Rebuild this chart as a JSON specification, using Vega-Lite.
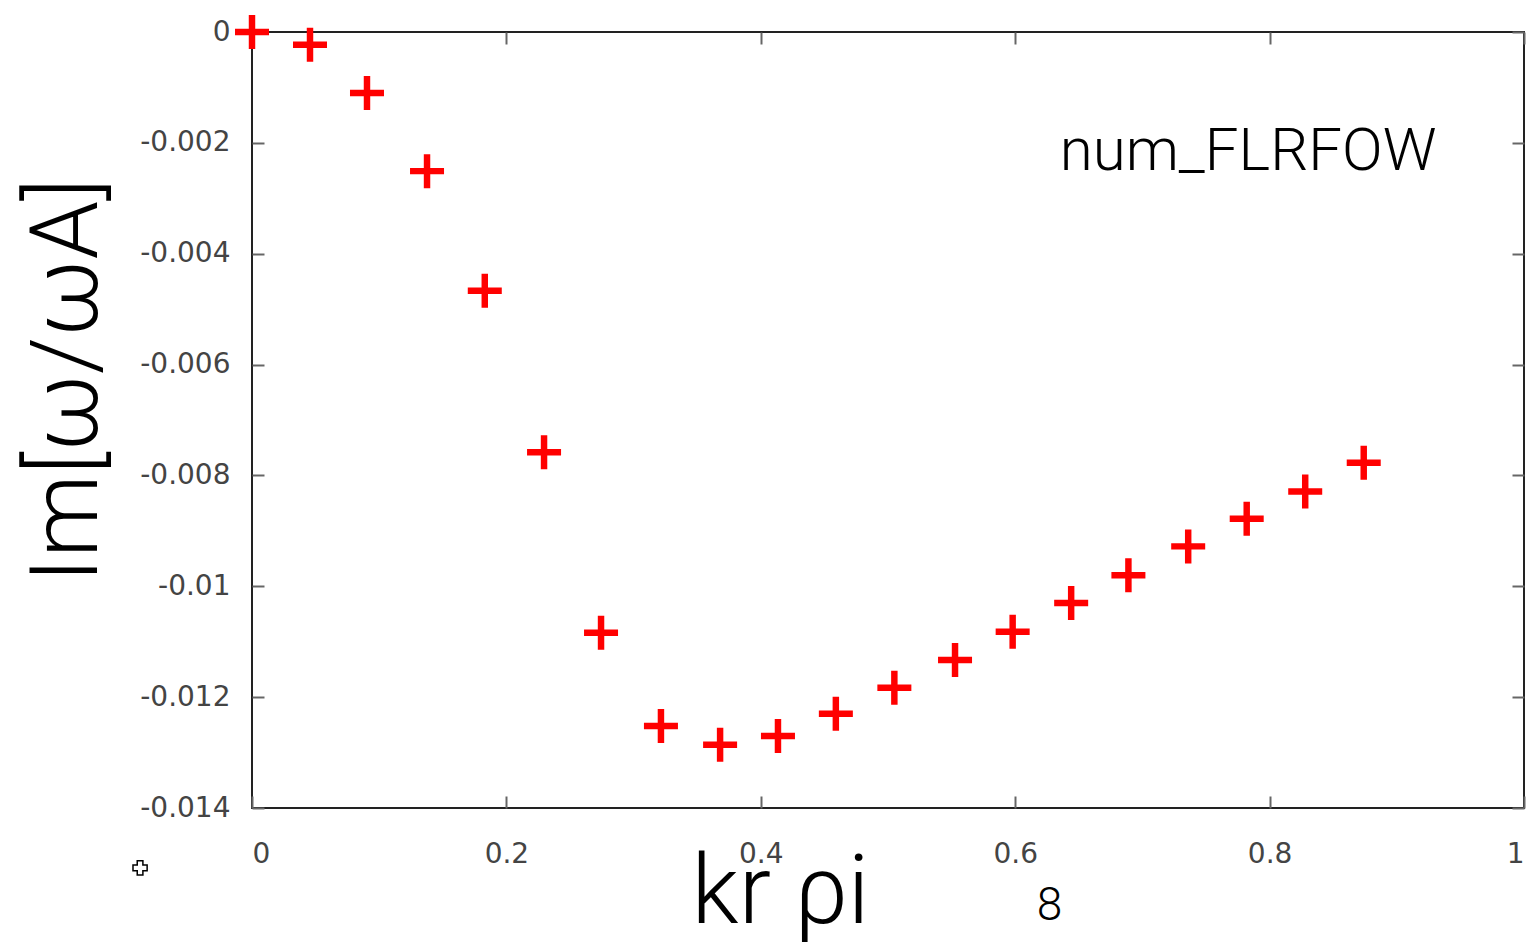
{
  "$schema": "https://vega.github.io/schema/vega-lite/v6.json",
  "width": 1272,
  "height": 776,
  "autosize": {"type": "none"},
  "padding": {"left": 252, "top": 32, "right": 7, "bottom": 134},
  "background": "white",
  "config": {
    "view": {"stroke": "#222", "strokeWidth": 2},
    "axis": {
      "grid": false,
      "domain": false,
      "tickSize": -12,
      "tickColor": "#666",
      "tickWidth": 2,
      "labelFont": "DejaVu Sans",
      "labelFontSize": 28,
      "labelColor": "#444",
      "titleFont": "Roboto",
      "titleFontWeight": 300,
      "titleColor": "#000"
    }
  },
  "datasets": {
    "pts": [
      {"kr": 0.0, "im": 0.0},
      {"kr": 0.0456, "im": -0.00023},
      {"kr": 0.0904, "im": -0.0011},
      {"kr": 0.1376, "im": -0.00251},
      {"kr": 0.183, "im": -0.00467},
      {"kr": 0.2296, "im": -0.00758},
      {"kr": 0.2744, "im": -0.01084},
      {"kr": 0.3215, "im": -0.01252},
      {"kr": 0.368, "im": -0.01286},
      {"kr": 0.4135, "im": -0.0127},
      {"kr": 0.459, "im": -0.0123},
      {"kr": 0.505, "im": -0.01183},
      {"kr": 0.5527, "im": -0.01133},
      {"kr": 0.598, "im": -0.01082},
      {"kr": 0.644, "im": -0.0103},
      {"kr": 0.689, "im": -0.0098},
      {"kr": 0.736, "im": -0.00928},
      {"kr": 0.782, "im": -0.00878},
      {"kr": 0.828, "im": -0.00829},
      {"kr": 0.874, "im": -0.00777}
    ],
    "labels": [
      {"kr": 0.635, "im": -0.00249, "txt": "num_FLRFOW", "kind": "legend"},
      {"kr": 0.617, "im": -0.01602, "txt": "8", "kind": "page"}
    ],
    "key": [
      {"kr": -0.088, "im": -0.01508}
    ]
  },
  "layer": [
    {
      "data": {"name": "pts"},
      "mark": {"type": "point", "shape": "M-1,-0.19H1V0.19H-1Z M-0.19,-1H0.19V1H-0.19Z", "filled": true, "color": "#ff0000", "size": 1156, "opacity": 1, "clip": false},
      "encoding": {
        "x": {
          "field": "kr", "type": "quantitative",
          "scale": {"domain": [0, 1], "nice": false, "zero": false},
          "axis": {
            "orient": "bottom",
            "values": [0, 0.2, 0.4, 0.6, 0.8, 1],
            "format": "~g",
            "labelPadding": 44,
            "title": "kr ρi",
            "titleFontSize": 96,
            "titleAnchor": "start",
            "titleAlign": "center",
            "titleBaseline": "alphabetic",
            "titleX": 528,
            "titleY": 114
          }
        },
        "y": {
          "field": "im", "type": "quantitative",
          "scale": {"domain": [-0.014, 0], "nice": false, "zero": false},
          "axis": {
            "orient": "left",
            "values": [0, -0.002, -0.004, -0.006, -0.008, -0.01, -0.012, -0.014],
            "labelExpr": "datum.value == 0 ? '0' : '-' + format(-datum.value, '~g')",
            "labelPadding": 34,
            "title": "Im[ω/ωA]",
            "titleFontSize": 94,
            "titleAngle": 270,
            "titleAlign": "center",
            "titleBaseline": "middle",
            "titleAnchor": "start",
            "titleX": -184,
            "titleY": 348
          }
        }
      }
    },
    {
      "data": {"name": "pts"},
      "mark": {"type": "point", "opacity": 0},
      "encoding": {
        "x": {
          "field": "kr", "type": "quantitative",
          "axis": {"orient": "top", "values": [0, 0.2, 0.4, 0.6, 0.8, 1], "labels": false, "title": null}
        },
        "y": {
          "field": "im", "type": "quantitative",
          "axis": {"orient": "right", "values": [0, -0.002, -0.004, -0.006, -0.008, -0.01, -0.012, -0.014], "labels": false, "title": null}
        }
      }
    },
    {
      "data": {"name": "labels"},
      "mark": {"type": "text", "font": "Roboto", "fontWeight": 300, "align": "left", "baseline": "alphabetic", "color": "#000"},
      "encoding": {
        "x": {"field": "kr", "type": "quantitative", "axis": null},
        "y": {"field": "im", "type": "quantitative", "axis": null},
        "text": {"field": "txt"},
        "size": {"field": "kind", "type": "nominal", "scale": {"domain": ["legend", "page"], "range": [60, 46]}, "legend": null}
      }
    },
    {
      "data": {"name": "key"},
      "mark": {"type": "point", "shape": "cross", "filled": true, "fill": "white", "stroke": "#000", "strokeWidth": 1.5, "size": 200, "opacity": 1},
      "encoding": {
        "x": {"field": "kr", "type": "quantitative", "axis": null},
        "y": {"field": "im", "type": "quantitative", "axis": null}
      }
    }
  ],
  "resolve": {"axis": {"x": "independent", "y": "independent"}}
}
